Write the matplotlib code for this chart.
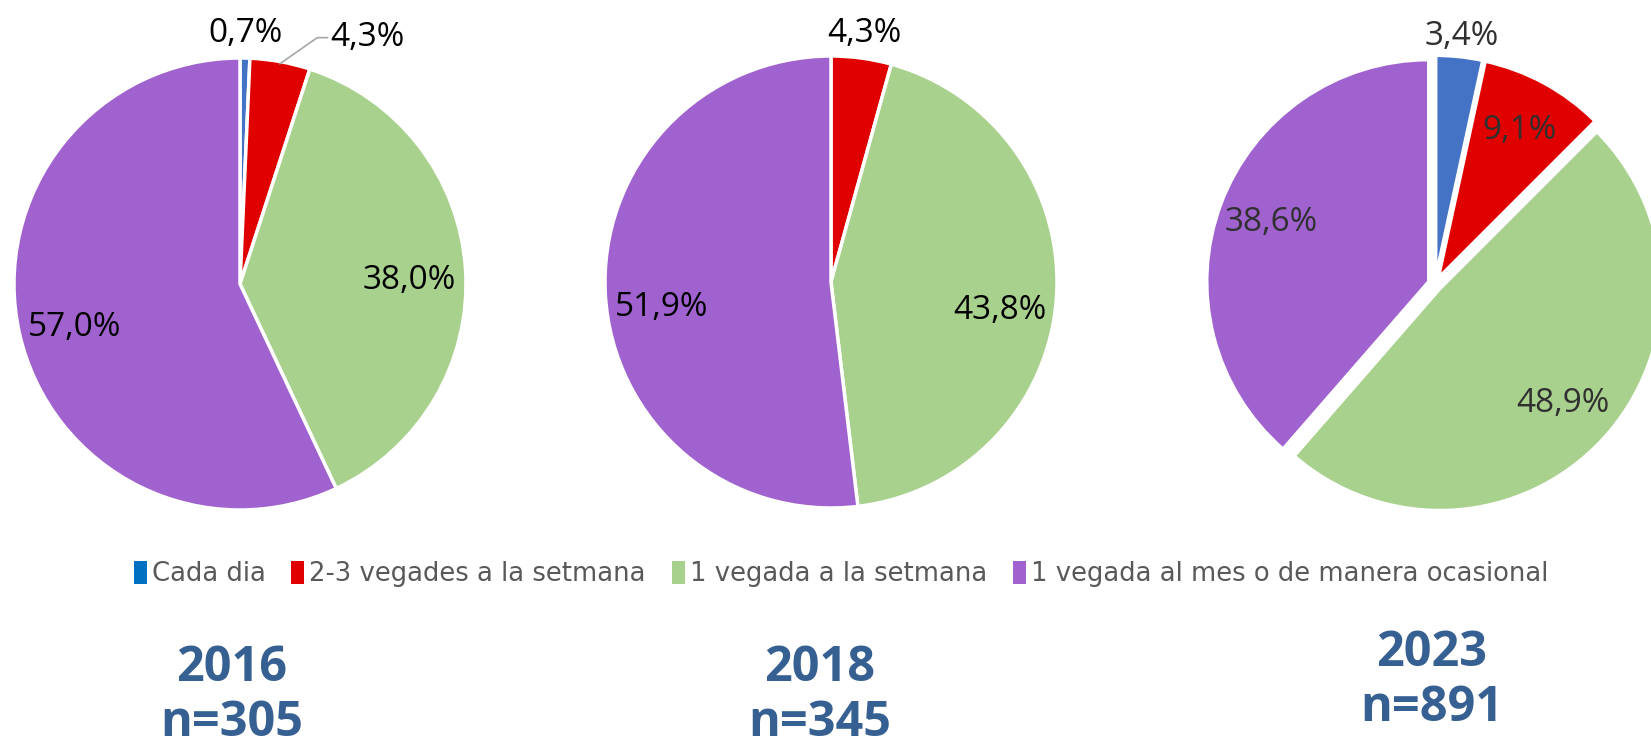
import matplotlib.pyplot as plt
import numpy as np
from matplotlib.patches import Patch

categories = ['Cada dia', '2-3 vegades a la setmana', '1 vegada a la setmana',
              '1 vegada al mes o de manera ocasional']
years = ['2016', '2018', '2023']
sizes_n = [305, 345, 891]
values_2016 = [0.7, 4.3, 38.0, 57.0]
values_2018 = [0.0, 4.3, 43.8, 51.9]
values_2023 = [3.4, 9.1, 48.9, 38.6]

pie_colors = ['#4472C4', '#E00000', '#A9D18E', '#A062CF']
legend_colors = ['#0070C0', '#E00000', '#A9D18E', '#A062CF']
title_color = '#376092'

W, H = 1651, 747
fig = plt.figure(figsize=(W / 100, H / 100), dpi=100)


def pie_axes(cx, cy, r):
    # cx, cy, r in pixels (y from top)
    return fig.add_axes([(cx - r) / W, (H - cy - r) / H, 2 * r / W, 2 * r / H])


def fmt(v):
    return f"{v:.1f}%".replace('.', ',')


def draw_pie(ax, vals, inner_r, outer_r, explode=0.0, color='black', leader=None, dy=0.0):
    shown = [v for v in vals if v > 0]
    cols = [c for v, c in zip(vals, pie_colors) if v > 0]
    wedges, _ = ax.pie(shown, colors=cols, startangle=90, counterclock=False,
                       explode=[explode] * len(shown),
                       wedgeprops=dict(edgecolor='white', linewidth=2.5, clip_on=False))
    ax.set_xlim(-1, 1)
    ax.set_ylim(-1, 1)
    ax.set_aspect('equal')
    for i, (w, v) in enumerate(zip(wedges, shown)):
        ang = np.deg2rad((w.theta1 + w.theta2) / 2)
        if v > 8:
            x, y = inner_r * np.cos(ang), inner_r * np.sin(ang) + dy
        else:
            x, y = outer_r * np.cos(ang), outer_r * np.sin(ang)
        if leader is not None and i == leader:
            ex, ey = 0.99 * np.cos(ang), 0.99 * np.sin(ang)
            ax.annotate(fmt(v), xy=(ex, ey), xytext=(0.40, 1.09), fontsize=24,
                        color=color, ha='left', va='center', family=['Open Sans'],
                        annotation_clip=False,
                        arrowprops=dict(arrowstyle='-', color='#A6A6A6', lw=1.2,
                                        connectionstyle='angle,angleA=0,angleB=35,rad=0',
                                        shrinkA=0, shrinkB=0))
        else:
            ax.text(x, y, fmt(v), fontsize=24, color=color, ha='center', va='center',
                    family=['Open Sans'])


ax1 = pie_axes(240, 284, 226)
draw_pie(ax1, values_2016, 0.75, 1.11, leader=1, dy=-0.03)
ax2 = pie_axes(831, 282, 226)
draw_pie(ax2, values_2018, 0.75, 1.11, dy=-0.07)
ax3 = pie_axes(1435, 284, 222)
draw_pie(ax3, values_2023, 0.79, 1.12, explode=0.03, color='#303030')

handles = [Patch(facecolor=c, edgecolor='none') for c in legend_colors]
fig.legend(handles, categories, loc='center', bbox_to_anchor=(841 / W, 1 - 574 / H),
           ncol=4, frameon=False, handlelength=0.5, handleheight=1.0,
           handletextpad=0.2, columnspacing=1.0,
           prop={'family': ['Liberation Sans Narrow', 'DejaVu Sans'], 'size': 18.6},
           labelcolor='#595959')

for x, y, yr, n in zip([232, 820, 1432], [681, 681, 666], years, sizes_n):
    fig.text(x / W, 1 - y / H, yr, fontsize=35, fontweight='bold', color=title_color,
             ha='center', va='baseline', family=['Open Sans'])
    fig.text(x / W, 1 - (y + 55) / H, f"n={n}", fontsize=35, fontweight='bold',
             color=title_color, ha='center', va='baseline', family=['Open Sans'])

fig.savefig('out.png', dpi=100)
